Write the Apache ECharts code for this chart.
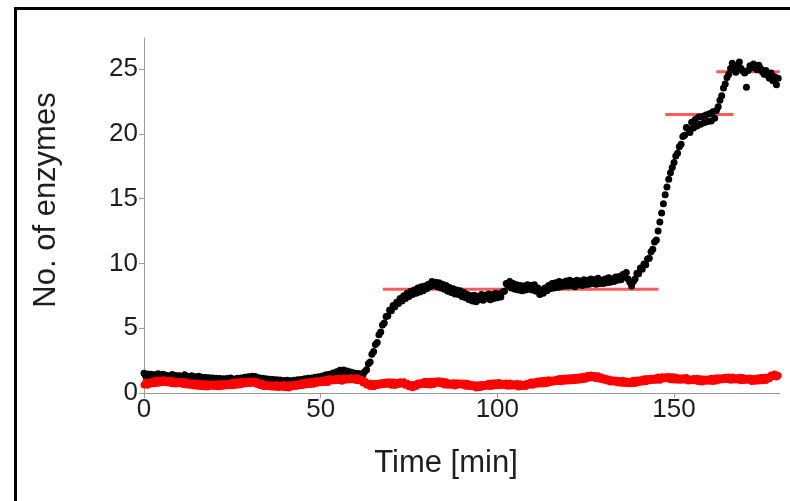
<!DOCTYPE html>
<html>
<head>
<meta charset="utf-8">
<script src="https://cdn.jsdelivr.net/npm/echarts@6/dist/echarts.min.js"></script>
<style>
  html, body { margin: 0; padding: 0; background: #fff; }
  #chart { width: 790px; height: 501px; }
</style>
</head>
<body>
<div id="chart"></div>
<script>
// Sampling interval of both traces, in minutes
const SAMPLE_STEP = 0.5;

// Enzyme count per frame, one value every SAMPLE_STEP minutes starting at t = 0
const enzymeCountTrace = [
  1.52,1.30,1.46,1.28,1.44,1.22,1.40,1.25,1.48,1.20,1.38,1.45,1.22,1.36,1.18,1.32,1.42,1.20,1.35,1.16,
  1.34,1.18,1.30,1.40,1.15,1.28,1.12,1.34,1.10,1.25,1.05,1.30,1.08,1.22,1.02,1.20,1.00,1.18,0.98,1.15,
  0.96,1.14,0.94,1.12,0.92,1.10,0.95,1.12,0.90,1.15,0.98,1.08,0.94,1.14,1.00,1.16,1.02,1.22,1.06,1.25,
  1.12,1.30,1.10,1.28,1.05,1.18,1.00,1.14,0.95,1.10,0.92,1.06,0.88,1.04,0.85,1.02,0.82,1.00,0.86,0.96,
  0.82,0.98,0.80,0.95,0.84,0.98,0.82,1.02,0.88,1.05,0.92,1.10,0.96,1.14,1.00,1.15,1.06,1.22,1.08,1.26,
  1.14,1.32,1.20,1.40,1.25,1.45,1.32,1.55,1.42,1.64,1.52,1.75,1.58,1.78,1.56,1.70,1.48,1.62,1.40,1.55,
  1.32,1.50,1.30,1.48,1.40,1.65,1.80,2.25,2.40,3.00,3.20,3.75,3.90,4.50,4.70,5.25,5.40,5.90,5.95,6.40,
  6.35,6.75,6.65,7.00,6.90,7.30,7.10,7.50,7.30,7.70,7.45,7.85,7.60,7.95,7.70,8.10,7.80,8.20,7.90,8.25,
  8.05,8.40,8.20,8.60,8.30,8.55,8.20,8.50,8.10,8.40,8.00,8.30,7.85,8.15,7.75,8.05,7.65,7.95,7.60,7.90,
  7.45,7.75,7.35,7.60,7.20,7.50,7.10,7.55,7.05,7.45,7.20,7.60,7.15,7.55,7.30,7.65,7.20,7.60,7.30,7.70,
  7.35,7.65,7.40,7.80,7.85,8.45,8.25,8.60,8.10,8.45,8.00,8.35,7.95,8.30,7.90,8.25,7.95,8.35,8.00,8.30,
  7.95,8.35,7.85,8.10,7.60,7.95,7.70,8.10,7.90,8.30,8.05,8.45,8.10,8.50,8.15,8.60,8.20,8.55,8.25,8.65,
  8.25,8.70,8.30,8.60,8.20,8.70,8.35,8.65,8.30,8.75,8.35,8.70,8.40,8.80,8.45,8.75,8.40,8.85,8.45,8.70,
  8.45,8.80,8.50,8.90,8.55,8.80,8.60,8.95,8.70,9.00,8.75,9.15,8.95,9.30,8.80,8.55,8.25,8.60,8.80,9.25,
  9.20,9.65,9.55,9.95,9.90,10.35,10.40,10.90,11.10,11.65,11.80,12.50,13.20,13.90,14.60,15.30,15.90,16.50,17.00,17.40,
  17.80,18.30,18.50,19.00,19.20,19.80,19.90,20.50,20.40,20.10,20.90,20.45,21.10,20.60,21.30,20.75,21.35,20.85,21.45,20.95,
  21.55,21.00,21.70,21.20,21.80,22.10,22.60,22.95,23.55,23.85,24.35,24.60,25.05,25.45,25.00,24.75,25.30,25.55,25.05,24.85,
  24.70,23.60,24.90,25.25,25.10,25.40,25.20,24.95,25.30,25.05,24.80,24.60,24.90,24.50,24.30,24.70,24.10,24.40,23.80,24.30
];

// Control trace, same sampling
const controlTrace = [
  0.62,0.85,0.60,0.82,0.70,0.92,0.72,0.98,0.76,1.00,0.80,1.02,0.82,0.96,0.78,0.98,0.72,0.92,0.70,0.88,
  0.74,0.90,0.66,0.88,0.62,0.82,0.60,0.78,0.55,0.80,0.52,0.76,0.50,0.74,0.48,0.72,0.46,0.70,0.52,0.68,
  0.50,0.70,0.48,0.74,0.50,0.72,0.54,0.76,0.55,0.80,0.56,0.84,0.60,0.86,0.62,0.88,0.68,0.86,0.72,0.92,
  0.74,0.92,0.76,0.90,0.66,0.82,0.56,0.76,0.48,0.66,0.50,0.64,0.46,0.62,0.44,0.64,0.42,0.60,0.44,0.66,
  0.40,0.62,0.38,0.64,0.48,0.68,0.50,0.70,0.55,0.80,0.58,0.82,0.64,0.84,0.66,0.90,0.68,0.94,0.76,0.94,
  0.80,0.98,0.82,1.06,0.82,1.10,0.92,1.08,0.94,1.12,0.96,1.14,0.90,1.16,0.98,1.12,1.00,1.18,1.02,1.16,
  0.96,1.18,0.94,1.06,0.78,0.92,0.62,0.78,0.50,0.76,0.48,0.74,0.58,0.78,0.62,0.82,0.66,0.84,0.68,0.86,
  0.60,0.84,0.58,0.82,0.66,0.86,0.70,0.86,0.60,0.76,0.48,0.66,0.40,0.66,0.50,0.78,0.64,0.82,0.66,0.90,
  0.64,0.88,0.62,0.90,0.66,0.92,0.76,0.94,0.72,0.90,0.62,0.86,0.60,0.78,0.60,0.80,0.54,0.80,0.62,0.78,
  0.62,0.78,0.52,0.76,0.50,0.68,0.50,0.64,0.38,0.64,0.40,0.66,0.48,0.66,0.52,0.76,0.50,0.78,0.54,0.80,
  0.56,0.82,0.58,0.76,0.58,0.78,0.52,0.78,0.54,0.72,0.54,0.74,0.46,0.72,0.50,0.68,0.50,0.76,0.60,0.84,
  0.60,0.86,0.68,0.92,0.70,0.96,0.70,0.98,0.74,1.02,0.82,1.00,0.84,1.04,0.88,1.12,0.86,1.14,0.90,1.16,
  0.92,1.18,0.94,1.20,0.96,1.22,0.98,1.26,1.02,1.30,1.06,1.36,1.16,1.38,1.18,1.36,1.10,1.34,1.06,1.24,
  1.00,1.16,0.92,1.08,0.84,1.02,0.84,1.00,0.80,0.96,0.76,0.98,0.74,0.92,0.72,0.90,0.72,0.98,0.74,1.00,
  0.82,1.02,0.84,1.10,0.86,1.12,0.94,1.14,0.96,1.16,0.98,1.24,0.98,1.26,1.08,1.26,1.10,1.28,1.02,1.26,
  1.00,1.24,0.98,1.16,0.98,1.18,1.00,1.20,0.92,1.08,0.94,1.12,0.94,1.14,0.86,1.10,0.84,1.08,0.90,1.08,
  0.90,1.14,0.88,1.16,0.92,1.18,1.00,1.18,1.02,1.22,1.04,1.24,0.98,1.24,1.00,1.18,1.00,1.22,0.94,1.20,
  0.96,1.14,0.98,1.16,0.88,1.12,0.90,1.16,0.92,1.20,0.94,1.22,0.96,1.24,1.10,1.38,1.26,1.46,1.24,1.36
];

// Fitted plateau levels: [start min, end min, enzyme count]
const plateauStarts = [67.6, 147.5, 162.0];
const plateauEnds   = [145.6, 166.8, 180.0];
const plateauLevels = [8.0, 21.5, 24.8];

// Axis ticks and titles
const xTicks = { min: 0, max: 180, interval: 50 };
const yTicks = { min: 0, max: 27.4, interval: 5 };
const xTitle = 'Time [min]';
const yTitle = 'No. of enzymes';

const toPoints = values => values.map((v, i) => [i * SAMPLE_STEP, v]);

const FONT = 'Liberation Sans, Arial, sans-serif';
const AXIS_GRAY = '#9a9a9a';
const TEXT_COLOR = '#1e1e1e';

const plateauSeries = plateauLevels.map((lvl, k) => ({
  type: 'line',
  data: [[plateauStarts[k], lvl], [plateauEnds[k], lvl]],
  symbol: 'none',
  silent: true,
  z: 1,
  lineStyle: { color: '#ff5a5a', width: 3 }
}));

const axisCommon = {
  axisLine: { show: true, lineStyle: { color: AXIS_GRAY, width: 1 } },
  axisTick: { show: true, inside: false, length: 5, lineStyle: { color: AXIS_GRAY } },
  splitLine: { show: false }
};

const chart = echarts.init(document.getElementById('chart'), null, { renderer: 'canvas' });
chart.setOption({
  animation: false,
  backgroundColor: '#ffffff',
  grid: { left: 144, right: 10, top: 38, bottom: 108, containLabel: false },
  xAxis: Object.assign({
    type: 'value',
    min: xTicks.min, max: xTicks.max, interval: xTicks.interval,
    axisLabel: { fontFamily: FONT, fontSize: 26, color: TEXT_COLOR, margin: 4, showMaxLabel: false }
  }, axisCommon),
  yAxis: Object.assign({
    type: 'value',
    min: yTicks.min, max: yTicks.max, interval: yTicks.interval,
    axisLabel: { fontFamily: FONT, fontSize: 26, color: TEXT_COLOR, margin: 6, showMaxLabel: false }
  }, axisCommon),
  graphic: [
    {
      type: 'polyline',
      shape: { points: [[15.5, 501], [15.5, 8.5], [790, 8.5]] },
      style: { stroke: '#000', lineWidth: 3, fill: null },
      silent: true
    },
    {
      type: 'text',
      x: 446, y: 463,
      style: { text: xTitle, font: '31px ' + FONT, fill: TEXT_COLOR, align: 'center', verticalAlign: 'middle' },
      silent: true
    },
    {
      type: 'text',
      x: 46, y: 200,
      rotation: Math.PI / 2,
      style: { text: yTitle, font: '31px ' + FONT, fill: TEXT_COLOR, align: 'center', verticalAlign: 'middle' },
      silent: true
    }
  ],
  series: [
    ...plateauSeries,
    {
      type: 'scatter',
      data: toPoints(enzymeCountTrace),
      symbol: 'circle',
      symbolSize: 7,
      itemStyle: { color: '#000000', opacity: 1 },
      z: 2,
      silent: true
    },
    {
      type: 'scatter',
      data: toPoints(controlTrace),
      symbol: 'circle',
      symbolSize: 7,
      itemStyle: { color: '#ff0000', opacity: 1 },
      z: 3,
      silent: true
    }
  ]
});
</script>
</body>
</html>
